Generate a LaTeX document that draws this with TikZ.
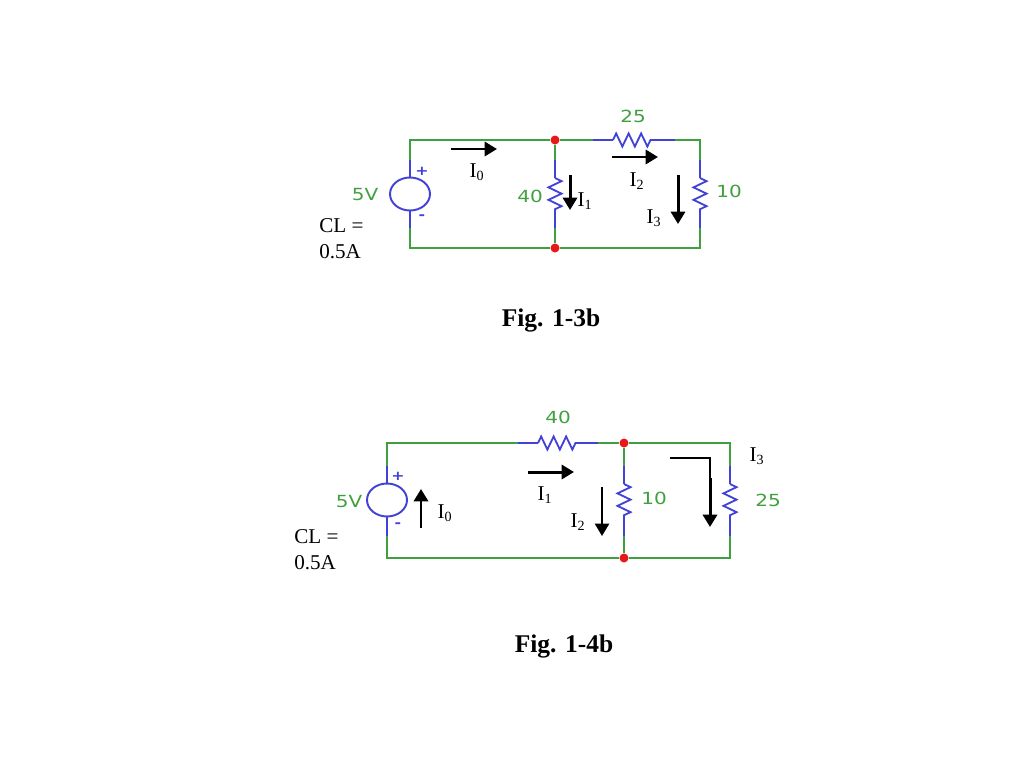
\documentclass[tikz,border=0pt]{standalone}
\usepackage{fontspec}
\setmainfont{Liberation Serif}
\newfontfamily\valfont[FakeStretch=1.2]{DejaVu Sans}
\usetikzlibrary{arrows.meta,decorations.pathmorphing,shapes.geometric}
\definecolor{wiregreen}{RGB}{64,160,64}
\definecolor{leadblue}{RGB}{66,66,214}
\definecolor{dotred}{RGB}{232,24,24}
\tikzset{
	wire/.style={wiregreen, line width=1.05pt},
	lead/.style={leadblue, line width=1.05pt},
	res/.style={lead, decorate, decoration={zigzag, segment length=0.25cm, amplitude=0.13cm}},
	source/.style={draw=leadblue, line width=1.1pt, ellipse, inner sep=0pt, minimum width=0.8cm, minimum height=0.66cm},
	junction/.style={circle, fill=dotred, inner sep=0pt, minimum size=0.18cm},
	curarrow/.style={-{Triangle[length=7pt,width=8pt]}, line width=1.7pt},
	val/.style={wiregreen, font=\valfont\fontsize{9.5}{11}\selectfont},
	pol/.style={leadblue, font=\valfont\bfseries\fontsize{7.5}{8}\selectfont, inner sep=0pt},
	lab/.style={font=\fontsize{12}{14}\selectfont, inner sep=0pt},
	caption/.style={font=\bfseries\fontsize{14.5}{17}\selectfont, inner sep=0pt}
}

\begin{document}
\begin{tikzpicture}[x=0.02cm, y=-0.02cm]
	\useasboundingbox (0,0) rectangle (1024,768);

	% upper circuit
	\foreach \name/\px/\py in {tl/410/140, bl/410/248, tr/700/140, br/700/248,
			a/410/160, b/410/228, c/555/160, d/555/178, e/555/210, f/555/228,
			g/593/140, h/613/140, i/653/140, j/675/140,
			k/700/160, l/700/178, m/700/210, n/700/228,
			p/451/149, q/497/149, r/612/157, s/658/157,
			t/570/175, u/570/210, v/678/175, w/678/224}
		\coordinate (\name) at (\px,\py);
	\node[source] (src) at (410,194) {};
	\node[junction] (top) at (555,140) {};
	\node[junction] (bot) at (555,248) {};
	\draw[wire] (a) -- (tl) -- (top) -- (g);
	\draw[wire] (j) -- (tr) -- (k);
	\draw[wire] (n) -- (br) -- (bot) -- (bl) -- (b);
	\draw[wire] (top) -- (c);
	\draw[wire] (f) -- (bot);
	\draw[lead] (a) -- (src.north);
	\draw[lead] (src.south) -- (b);
	\draw[lead] (c) -- (d);
	\draw[res] (d) -- (e);
	\draw[lead] (e) -- (f);
	\draw[lead] (g) -- (h);
	\draw[res] (h) -- (i);
	\draw[lead] (i) -- (j);
	\draw[lead] (k) -- (l);
	\draw[res] (l) -- (m);
	\draw[lead] (m) -- (n);
	\draw[curarrow] (p) -- (q);
	\draw[curarrow] (r) -- (s);
	\draw[curarrow] (t) -- (u);
	\draw[curarrow] (v) -- (w);
	\node[val] (vsrc) at (365,195) {5V};
	\node[pol] (plus) at (422,171) {+};
	\node[pol] (minus) at (422,217) {-};
	\node[val] (rtop) at (633,116) {25};
	\node[val] (rmid) at (530,196) {40};
	\node[val] (rright) at (729,191) {10};
	\node[lab] (izero) at (477,172) {I\textsubscript{0}};
	\node[lab] (ione) at (585,201) {I\textsubscript{1}};
	\node[lab] (itwo) at (637,181) {I\textsubscript{2}};
	\node[lab] (ithree) at (654,218) {I\textsubscript{3}};
	\node[lab, anchor=west] (cl) at (319,226) {CL =};
	\node[lab, anchor=west] (cla) at (319,252) {0.5A};
	\node[caption] (figa) at (551,320) {Fig. 1-3b};

	% lower circuit
	\foreach \name/\px/\py in {tlb/387/443, blb/387/558, trb/730/443, brb/730/558,
			ab/387/466, bb/387/536, cb/624/466, db/624/484, eb/624/518, fb/624/536,
			gb/518/443, hb/538/443, ib/578/443, jb/598/443,
			kb/730/466, lb/730/484, mb/730/518, nb/730/536,
			pb/421/528, qb/421/489, rb/528/472, sb/574/472,
			tb/602/487, ub/602/536, vb/670/458, wb/710/458, xb/710/478, yb/710/527}
		\coordinate (\name) at (\px,\py);
	\node[source] (srcb) at (387,500) {};
	\node[junction] (topb) at (624,443) {};
	\node[junction] (botb) at (624,558) {};
	\draw[wire] (ab) -- (tlb) -- (gb);
	\draw[wire] (jb) -- (topb) -- (trb) -- (kb);
	\draw[wire] (nb) -- (brb) -- (botb) -- (blb) -- (bb);
	\draw[wire] (topb) -- (cb);
	\draw[wire] (fb) -- (botb);
	\draw[lead] (ab) -- (srcb.north);
	\draw[lead] (srcb.south) -- (bb);
	\draw[lead] (cb) -- (db);
	\draw[res] (db) -- (eb);
	\draw[lead] (eb) -- (fb);
	\draw[lead] (gb) -- (hb);
	\draw[res] (hb) -- (ib);
	\draw[lead] (ib) -- (jb);
	\draw[lead] (kb) -- (lb);
	\draw[res] (lb) -- (mb);
	\draw[lead] (mb) -- (nb);
	\draw[curarrow] (pb) -- (qb);
	\draw[curarrow] (rb) -- (sb);
	\draw[curarrow, line width=1.2pt] (tb) -- (ub);
	\draw[line width=1pt] (vb) -- (wb) -- (xb);
	\draw[curarrow] (xb) -- (yb);
	\node[val] (vsrcb) at (349,502) {5V};
	\node[pol] (plusb) at (398,476) {+};
	\node[pol] (minusb) at (398,525) {-};
	\node[val] (rtopb) at (558,417) {40};
	\node[val] (rmidb) at (654,498) {10};
	\node[val] (rrightb) at (768,500) {25};
	\node[lab] (izerob) at (445,513) {I\textsubscript{0}};
	\node[lab] (ioneb) at (545,495) {I\textsubscript{1}};
	\node[lab] (itwob) at (578,522) {I\textsubscript{2}};
	\node[lab] (ithreeb) at (757,456) {I\textsubscript{3}};
	\node[lab, anchor=west] (clb) at (294,537) {CL =};
	\node[lab, anchor=west] (clab) at (294,563) {0.5A};
	\node[caption] (figb) at (564,646) {Fig. 1-4b};
\end{tikzpicture}
\end{document}
